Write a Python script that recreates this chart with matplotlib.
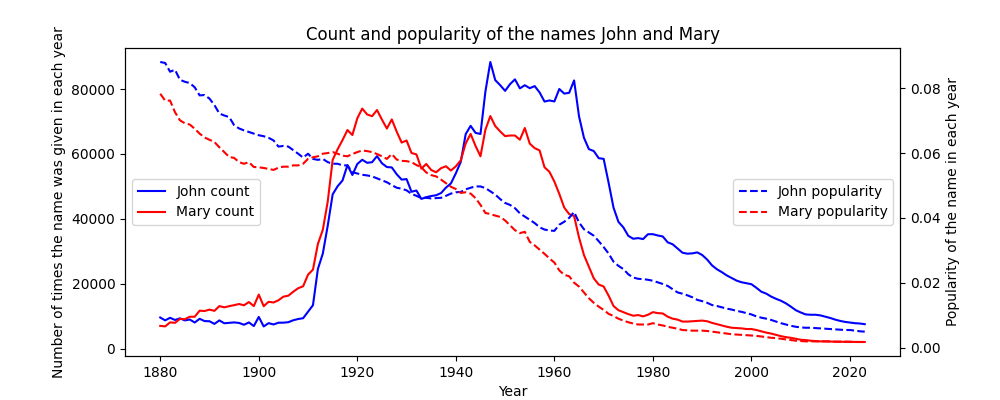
import numpy as np
import matplotlib
matplotlib.use("Agg")
import matplotlib.pyplot as plt

years = list(range(1880, 2024))

john_count = [
    9650, 8770, 9560, 8890, 9390, 8760, 9030, 8110, 9250, 8550,   # 1880s
    8500, 7680, 8760, 7880, 8020, 8140, 7980, 7420, 8130, 7020,   # 1890s
    9830, 6900, 7920, 7510, 8050, 8060, 8210, 8800, 9190, 9430,   # 1900s
    11450, 13440, 24590, 29330, 37950, 47580, 50050, 51850, 56560, 53540,
    56910, 58220, 57280, 57470, 59340, 57140, 55980, 55860, 53750, 52110,
    52260, 48380, 48740, 46160, 46700, 47060, 47290, 47970, 49650, 50930,
    54050, 57570, 66120, 68670, 66500, 66160, 79220, 88320, 82730, 81180,
    79430, 81500, 82980, 80200, 81170, 80250, 80900, 78950, 76140, 76480,
    76170, 80010, 78590, 78830, 82640, 71620, 65000, 61500, 60900, 58700,
    58500, 51200, 43500, 39100, 37400, 34800, 33900, 34100, 33800, 35300,
    35300, 34900, 34600, 32800, 32200, 30900, 29600, 29300, 29400, 29700,
    28900, 27500, 25700, 24500, 23600, 22600, 21800, 21000, 20500, 20200,
    19900, 18800, 17600, 17000, 16100, 15400, 14800, 14000, 13000, 11900,
    11200, 10600, 10500, 10500, 10300, 9900, 9500, 9000, 8600, 8300,
    8100, 7900, 7800, 7600,
]

mary_count = [
    7070, 6920, 8150, 8010, 9220, 9130, 9890, 9890, 11750, 11650,
    12080, 11700, 13170, 12780, 13150, 13450, 13810, 13410, 14410, 13170,
    16710, 13140, 14490, 14280, 14960, 16070, 16370, 17580, 18670, 19260,
    22850, 24390, 32300, 36640, 45350, 58190, 61440, 64280, 67370, 65840,
    70980, 73980, 72170, 71630, 73530, 70590, 67830, 70640, 66870, 63510,
    64150, 60300, 59870, 55510, 56920, 55070, 54370, 55640, 56210, 54900,
    56200, 58040, 63250, 66170, 62470, 59290, 67470, 71680, 68590, 66940,
    65490, 65690, 65680, 64400, 68000, 63200, 61800, 61100, 55900, 54500,
    51500, 47700, 43500, 41500, 40900, 34300, 28900, 25300, 21700, 19800,
    19200, 16400, 13200, 11900, 11300, 10700, 10200, 10400, 10000, 10500,
    11300, 11000, 10900, 9900, 9300, 9000, 8400, 8400, 8500, 8600,
    8700, 8500, 8000, 7600, 7200, 6800, 6500, 6400, 6300, 6100,
    6100, 5800, 5400, 5000, 4700, 4300, 3900, 3600, 3400, 3100,
    2800, 2700, 2500, 2400, 2300, 2300, 2250, 2200, 2200, 2150,
    2150, 2150, 2120, 2110,
]

john_pop = [
    .0881, .0878, .0851, .0857, .0826, .0820, .0816, .0803, .0778, .0779,
    .0768, .0748, .0722, .0716, .0711, .0686, .0676, .0670, .0665, .0660,
    .0655, .0652, .0647, .0639, .0620, .0622, .0620, .0609, .0598, .0586,
    .0598, .0582, .0579, .0582, .0572, .0567, .0567, .0562, .0562, .0541,
    .0537, .0533, .0531, .0528, .0522, .0516, .0510, .0501, .0493, .0490,
    .0485, .0474, .0468, .0461, .0462, .0460, .0461, .0462, .0468, .0475,
    .0479, .0480, .0488, .0493, .0497, .0497, .0492, .0482, .0472, .0458,
    .0446, .0440, .0430, .0414, .0404, .0394, .0384, .0371, .0364, .0361,
    .0360, .0379, .0388, .0400, .0418, .0386, .0365, .0355, .0345, .0328,
    .0310, .0290, .0265, .0252, .0242, .0226, .0216, .0212, .0211, .0209,
    .0206, .0201, .0196, .0190, .0180, .0170, .0166, .0161, .0155, .0147,
    .0143, .0138, .0131, .0128, .0124, .0120, .0117, .0113, .0110, .0106,
    .0102, .0096, .0092, .0089, .0085, .0080, .0075, .0071, .0067, .0064,
    .0062, .0061, .0061, .0060, .0059, .0058, .0057, .0056, .0055, .0054,
    .0054, .0052, .0050, .0049,
]

mary_pop = [
    .0783, .0762, .0762, .0726, .0701, .0692, .0688, .0675, .0660, .0648,
    .0641, .0634, .0618, .0603, .0588, .0585, .0572, .0567, .0572, .0557,
    .0556, .0554, .0551, .0548, .0555, .0558, .0558, .0562, .0562, .0567,
    .0582, .0587, .0590, .0598, .0600, .0603, .0598, .0592, .0590, .0597,
    .0603, .0608, .0606, .0603, .0597, .0590, .0582, .0597, .0580, .0576,
    .0575, .0572, .0563, .0556, .0540, .0532, .0528, .0518, .0507, .0496,
    .0489, .0477, .0479, .0475, .0461, .0440, .0415, .0412, .0407, .0403,
    .0392, .0377, .0362, .0353, .0357, .0326, .0315, .0302, .0289, .0275,
    .0262, .0238, .0224, .0220, .0200, .0188, .0170, .0152, .0138, .0126,
    .0116, .0104, .0097, .0089, .0083, .0078, .0074, .0071, .0071, .0071,
    .0075, .0071, .0068, .0064, .0061, .0058, .0054, .0053, .0052, .0052,
    .0052, .0051, .0049, .0047, .0045, .0043, .0041, .0040, .0039, .0038,
    .0037, .0036, .0034, .0032, .0030, .0029, .0027, .0025, .0023, .0021,
    .0020, .0019, .0019, .0019, .0019, .0019, .0019, .0018, .0018, .0018,
    .0018, .0017, .0017, .0017,
]

fig, ax = plt.subplots(figsize=(10, 4), dpi=100)
ax.plot(years, john_count, color="blue", label="John count")
ax.plot(years, mary_count, color="red", label="Mary count")
ax.set_xlabel("Year")
ax.set_ylabel("Number of times the name was given in each year")
ax.legend(loc="center left")

ax2 = ax.twinx()
ax2.plot(years, john_pop, color="blue", linestyle="--", label="John popularity")
ax2.plot(years, mary_pop, color="red", linestyle="--", label="Mary popularity")
ax2.set_ylabel("Popularity of the name in each year")
ax2.legend(loc="center right")

ax.set_title("Count and popularity of the names John and Mary")
fig.savefig("out.png")
